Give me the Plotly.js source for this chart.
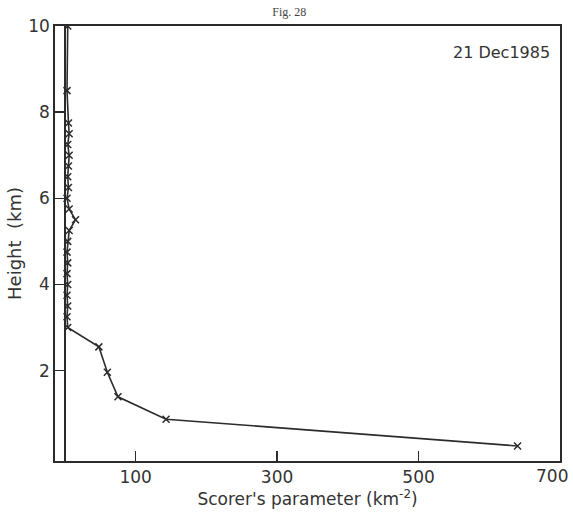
<!DOCTYPE html>
<html>
<head>
<meta charset="utf-8">
<script src="https://cdn.plot.ly/plotly-3.0.1.min.js"></script>
<style>html,body{margin:0;padding:0;background:#fff;}#chart{width:573px;height:522px;}</style>
</head>
<body>
<div id="chart"></div>
<script>
// Scorer's parameter (km^-2) vs height (km), 21 Dec 1985
const heights = [10, 8.5, 7.75, 7.5, 7.25, 7.0, 6.75, 6.5, 6.25, 6.0, 5.75, 5.5, 5.25, 5.0, 4.75, 4.5, 4.25, 4.0, 3.75, 3.5, 3.25, 3.0, 2.55, 1.96, 1.39, 0.87, 0.25];
const scorer  = [4, 3, 5, 6, 4, 6, 5, 4, 5, 3, 6, 15, 6, 4, 3, 4, 3, 4, 3, 4, 3, 4, 48, 60, 75, 143, 640];
const xTickVals = [100, 300, 500];
const xTickText = ['100', '300', '500'];
const xEndTick = 700;
const xEndText = '700';
const yTickVals = [2, 4, 6, 8, 10];
const yTickText = ['2', '4', '6', '8', '10'];

const ink = '#2b2b2b';
const fontFam = '"DejaVu Sans", "Liberation Sans", sans-serif';

const trace = {
  x: scorer,
  y: heights,
  mode: 'lines+markers',
  type: 'scatter',
  line: {color: ink, width: 1.6},
  marker: {symbol: 'x-thin', size: 7, color: ink, line: {color: ink, width: 1.5}},
  showlegend: false,
  hoverinfo: 'skip'
};

const layout = {
  width: 573,
  height: 522,
  paper_bgcolor: '#ffffff',
  plot_bgcolor: '#ffffff',
  margin: {l: 55, r: 13, t: 26, b: 61},
  font: {family: fontFam, color: ink},
  title: {
    text: 'Fig. 28',
    font: {family: '"Liberation Serif", "DejaVu Serif", serif', size: 12, color: '#444'},
    x: 0.505, xanchor: 'center', y: 0.985, yanchor: 'top'
  },
  xaxis: {
    range: [-14, 700],
    tickmode: 'array', tickvals: xTickVals, ticktext: xTickText,
    ticks: 'inside', ticklen: 10, tickwidth: 1.5, tickcolor: ink,
    showline: true, linecolor: ink, linewidth: 1.8, mirror: true,
    showgrid: false,
    zeroline: true, zerolinecolor: ink, zerolinewidth: 1.6,
    tickfont: {size: 17, color: '#333', family: fontFam},
    title: {text: "Scorer's parameter (km<sup>-2</sup>)", font: {size: 17, color: '#333', family: fontFam}, standoff: 4}
  },
  yaxis: {
    range: [-0.1, 10],
    tickmode: 'array', tickvals: yTickVals, ticktext: yTickText,
    ticks: 'inside', ticklen: 9, tickwidth: 1.5, tickcolor: ink,
    showline: true, linecolor: ink, linewidth: 1.8, mirror: true,
    showgrid: false, zeroline: false,
    tickfont: {size: 17, color: '#333', family: fontFam},
    title: {text: 'Height  (km)', font: {size: 18, color: '#333', family: fontFam}, standoff: 2}
  },
  annotations: [{
    text: '21 Dec1985',
    xref: 'paper', yref: 'paper',
    x: 0.985, y: 0.965, xanchor: 'right', yanchor: 'top',
    showarrow: false,
    font: {size: 16, color: '#333', family: fontFam}
  }, {
    text: xEndText,
    xref: 'x', yref: 'paper',
    x: xEndTick, y: 0, xanchor: 'center', yanchor: 'top',
    xshift: -8, yshift: -3,
    showarrow: false,
    font: {size: 17, color: '#333', family: fontFam}
  }]
};

Plotly.newPlot('chart', [trace], layout, {displayModeBar: false, staticPlot: true});
</script>
</body>
</html>
